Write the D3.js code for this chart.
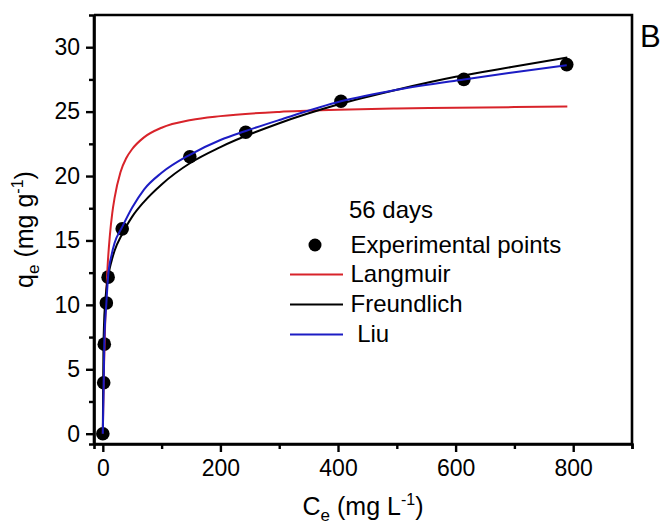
<!DOCTYPE html>
<html>
<head>
  <meta charset='utf-8'>
  <script src='https://d3js.org/d3.v7.min.js'></script>
  <style>
    body { margin: 0; background: #fff; }
    svg text { font-family: 'Liberation Sans', Arial, sans-serif; fill: #000; }
  </style>
</head>
<body>
  <script>
// experimental points (56 days)
const ptC = [0, 1.5, 2.5, 6, 9, 33, 148, 243, 405, 614, 789];
const ptQ = [0, 3.95, 6.95, 10.15, 12.15, 15.9, 21.5, 23.4, 25.8, 27.5, 28.65];

// fitted curves
const lgC = [0, 1, 2, 4, 6, 8, 12, 16, 20, 30, 40, 50, 70, 100, 150, 200, 300, 400, 500, 600, 700, 790];
const lgQ = [0, 2.9, 5.2, 8.6, 11.0, 12.9, 15.4, 17.1, 18.3, 20.3, 21.4, 22.1, 23.0, 23.75, 24.35, 24.65, 24.98, 25.14, 25.24, 25.3, 25.35, 25.39];

const frC = [0, 1, 2, 4, 6, 9, 12, 16, 20, 33, 40, 50, 70, 100, 150, 200, 300, 400, 500, 600, 700, 790];
const frQ = [0, 6.3, 8.4, 10.2, 11.2, 12.2, 12.9, 13.6, 14.2, 15.5, 16.1, 16.85, 18.0, 19.35, 21.05, 22.25, 24.1, 25.55, 26.7, 27.7, 28.5, 29.2];

const liuC = [0, 1.5, 2.5, 6, 9, 15, 20, 33, 50, 70, 100, 148, 200, 243, 300, 405, 500, 614, 700, 789];
const liuQ = [0, 4, 7, 10.1, 12.2, 13.9, 14.8, 16.05, 17.55, 18.95, 20.25, 21.65, 22.8, 23.5, 24.35, 25.8, 26.7, 27.5, 28.05, 28.6];

const xTicks = [0, 200, 400, 600, 800];
const xMinor = [100, 300, 500, 700, 900];
const yTicks = [0, 5, 10, 15, 20, 25, 30];
const yMinor = [2.5, 7.5, 12.5, 17.5, 22.5, 27.5];

const series = [
  {name: 'Langmuir', c: lgC, q: lgQ, color: '#d8232a'},
  {name: 'Freundlich', c: frC, q: frQ, color: '#000000'},
  {name: ' Liu', c: liuC, q: liuQ, color: '#1c1cc4'}
];

const margin = {top: 15, right: 36, bottom: 87, left: 94},
  width = 668,
  height = 531,
  innerWidth = width - margin.left - margin.right,
  innerHeight = height - margin.top - margin.bottom;

const svg = d3.select('body').append('svg').attr('width', width).attr('height', height);
const g = svg.append('g').attr('transform', `translate(${margin.left},${margin.top})`);

const x = d3.scaleLinear().domain([-15, 900]).range([0, innerWidth]);
const y = d3.scaleLinear().domain([-0.8, 32.5]).range([innerHeight, 0]);

// points first, curves drawn over them
g.append('g')
  .selectAll('circle')
  .data(ptC.map((c, i) => [c, ptQ[i]]))
  .join('circle')
  .attr('cx', d => x(d[0]))
  .attr('cy', d => y(d[1]))
  .attr('r', 6.8)
  .attr('fill', '#000');

const line = d3.line()
  .x(d => x(d[0]))
  .y(d => y(d[1]))
  .curve(d3.curveMonotoneX);

series.forEach(s => {
  g.append('path')
    .datum(s.c.map((c, i) => [c, s.q[i]]))
    .attr('fill', 'none')
    .attr('stroke', s.color)
    .attr('stroke-width', 2)
    .attr('d', line);
});

// axes
const xAxis = g.append('g')
  .attr('transform', `translate(0,${innerHeight})`)
  .call(d3.axisBottom(x).tickValues(xTicks).tickSize(8).tickPadding(8));
const xMin = g.append('g')
  .attr('transform', `translate(0,${innerHeight})`)
  .call(d3.axisBottom(x).tickValues(xMinor).tickSize(5));

const yAxis = g.append('g')
  .call(d3.axisLeft(y).tickValues(yTicks).tickSize(8).tickPadding(6));
const yMin = g.append('g')
  .call(d3.axisLeft(y).tickValues(yMinor).tickSize(5));

xMin.selectAll('text').remove();
yMin.selectAll('text').remove();

g.selectAll('.domain').attr('stroke', '#000').attr('stroke-width', 2.6);
g.selectAll('.tick line').attr('stroke', '#000').attr('stroke-width', 2.4);
g.selectAll('.tick text').attr('font-size', 23).attr('font-family', "'Liberation Sans', Arial, sans-serif");
xAxis.selectAll('.domain').attr('d', `M0,0H${innerWidth}`);
yAxis.selectAll('.domain').attr('d', `M0,${innerHeight}V0`);

// frame top + right
g.append('path')
  .attr('d', `M0,0H${innerWidth}V${innerHeight}`)
  .attr('fill', 'none')
  .attr('stroke', '#000')
  .attr('stroke-width', 2.6);

// axis titles
const xt = svg.append('text')
  .attr('x', margin.left + innerWidth / 2)
  .attr('y', 515)
  .attr('text-anchor', 'middle')
  .attr('font-size', 25);
xt.append('tspan').text('C');
xt.append('tspan').attr('font-size', 17).attr('dy', 6).text('e');
xt.append('tspan').attr('dy', -6).text(' (mg L');
xt.append('tspan').attr('font-size', 16).attr('dy', -10).text('-1');
xt.append('tspan').attr('dy', 10).text(')');

const yt = svg.append('text')
  .attr('transform', `translate(33,${margin.top + innerHeight / 2}) rotate(-90)`)
  .attr('text-anchor', 'middle')
  .attr('font-size', 25);
yt.append('tspan').text('q');
yt.append('tspan').attr('font-size', 17).attr('dy', 6).text('e');
yt.append('tspan').attr('dy', -6).text(' (mg g');
yt.append('tspan').attr('font-size', 16).attr('dy', -10).text('-1');
yt.append('tspan').attr('dy', 10).text(')');

// panel letter
svg.append('text')
  .attr('x', 640)
  .attr('y', 47)
  .attr('font-size', 31)
  .text('B');

// legend
const lg = svg.append('g').attr('font-size', 24);
lg.append('text').attr('x', 349).attr('y', 218).text('56 days');
lg.append('circle').attr('cx', 315).attr('cy', 245).attr('r', 6.5).attr('fill', '#000');
lg.append('text').attr('x', 350.5).attr('y', 252.5).text('Experimental points');
series.forEach((s, i) => {
  const yy = 274.5 + i * 30;
  lg.append('line')
    .attr('x1', 290).attr('x2', 343)
    .attr('y1', yy).attr('y2', yy)
    .attr('stroke', s.color)
    .attr('stroke-width', 2);
  lg.append('text')
    .attr('x', 350.5)
    .attr('y', yy + 7.5)
    .style('white-space', 'pre')
    .text(s.name);
});
  </script>
</body>
</html>
